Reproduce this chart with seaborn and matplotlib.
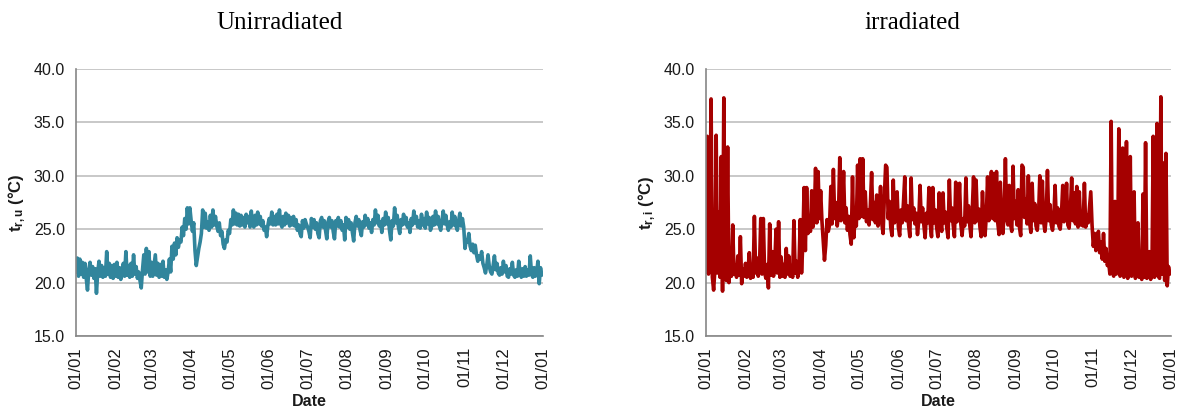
import numpy as np
import pandas as pd
import matplotlib
matplotlib.use("Agg")
import matplotlib.pyplot as plt
import matplotlib.dates as mdates
import seaborn as sns

# Daily room temperatures (°C), one value per day, month by month
unirr_jan = [21.0, 22.3, 20.6, 22.2, 20.8, 21.9, 20.5, 21.8, 20.4, 19.3, 21.2, 21.9, 20.7, 21.5, 20.4, 21.3,
             19.0, 21.0, 22.0, 20.6, 21.6, 20.5, 21.4, 20.6, 22.9, 20.8, 21.8, 20.5, 21.6, 20.4, 21.7]
unirr_feb = [20.6, 21.9, 20.5, 21.4, 20.3, 20.8, 21.8, 20.6, 22.9, 20.7, 21.6, 20.5, 21.8, 20.6, 22.6, 20.8,
             21.5, 20.4, 21.0, 20.2, 19.5, 21.2, 22.6, 20.8, 23.2, 21.0, 22.9, 20.6]
unirr_mar = [21.9, 20.6, 21.6, 22.6, 20.7, 21.8, 20.5, 21.7, 20.6, 22.0, 20.5, 21.2, 20.3, 21.0, 22.2, 21.0,
             23.4, 22.2, 23.7, 22.6, 24.2, 23.3, 24.0, 23.8, 25.2, 24.4, 26.0, 25.0, 27.0, 25.5, 27.0]
unirr_apr = [25.8, 24.8, 25.6, 23.0, 21.6, 22.4, 23.2, 23.8, 24.6, 26.8, 25.2, 26.5, 25.1, 25.7, 24.9, 26.3,
             25.2, 26.8, 25.4, 26.2, 25.3, 24.8, 25.6, 24.4, 24.8, 23.6, 23.2, 24.0, 23.8, 24.9]
unirr_may = [24.6, 25.9, 25.4, 26.8, 25.5, 26.5, 25.4, 26.4, 25.3, 26.3, 25.4, 26.1, 25.2, 26.4, 25.6, 26.2,
             25.2, 26.7, 25.5, 25.2, 26.3, 25.4, 26.6, 25.5, 26.2, 25.3, 25.8, 24.9, 25.2, 24.3, 25.4]
unirr_jun = [26.0, 25.5, 26.6, 25.4, 26.2, 25.4, 26.4, 25.5, 26.8, 25.5, 25.2, 26.2, 25.4, 26.5, 25.6, 26.3,
             25.3, 26.1, 25.4, 26.2, 25.3, 25.9, 24.9, 25.4, 24.6, 24.3, 25.8, 25.1, 25.9, 25.5]
unirr_jul = [25.2, 24.8, 24.2, 26.0, 25.2, 25.9, 25.0, 25.6, 24.6, 24.2, 25.8, 26.1, 25.2, 25.8, 24.9, 24.1,
             25.7, 26.1, 25.2, 25.8, 24.8, 24.1, 25.8, 25.3, 26.1, 25.2, 25.8, 24.9, 25.4, 24.0, 26.1]
unirr_aug = [25.2, 25.9, 25.0, 25.6, 24.7, 23.9, 25.6, 26.2, 25.3, 25.9, 24.9, 24.4, 25.7, 25.2, 26.3, 25.4,
             26.0, 25.1, 25.6, 24.7, 25.9, 25.4, 26.8, 25.6, 26.3, 25.3, 25.7, 24.7, 26.0, 25.4, 26.6]
unirr_sep = [25.5, 26.1, 24.9, 24.0, 25.8, 25.3, 27.0, 25.6, 26.3, 25.2, 24.6, 25.9, 25.4, 26.4, 25.5, 26.1,
             25.2, 25.6, 24.7, 26.0, 25.4, 26.7, 25.6, 26.2, 25.2, 25.8, 25.1, 26.4, 25.4, 26.0]
unirr_oct = [25.1, 26.6, 25.5, 26.1, 24.9, 25.3, 26.2, 25.4, 26.7, 25.5, 26.2, 25.3, 24.9, 25.8, 26.7, 25.5,
             26.3, 25.4, 24.9, 25.7, 25.2, 26.6, 25.4, 26.2, 25.3, 24.9, 25.8, 26.5, 25.3, 26.0, 25.2]
unirr_nov = [23.2, 24.0, 23.8, 24.6, 23.4, 23.0, 23.6, 22.8, 23.5, 22.6, 22.0, 22.5, 22.2, 22.9, 21.8, 21.4,
             20.9, 21.6, 22.6, 21.5, 21.0, 20.8, 21.6, 22.5, 21.2, 21.8, 20.9, 20.7, 21.4, 20.8]
unirr_dec = [22.0, 21.0, 21.6, 20.6, 20.5, 21.3, 20.8, 21.9, 20.7, 20.5, 21.2, 20.6, 22.0, 21.0, 20.5, 21.3,
             20.6, 21.5, 20.6, 21.2, 20.7, 22.5, 20.8, 20.5, 21.4, 20.6, 21.0, 22.0, 19.9, 21.4, 20.7]

irr_jan = [21.0, 33.7, 20.8, 25.2, 37.2, 20.5, 19.3, 21.2, 33.8, 20.9, 26.6, 20.5, 31.8, 19.2, 37.3, 21.0,
           20.2, 32.7, 20.0, 21.5, 20.6, 25.4, 20.8, 21.6, 20.5, 22.5, 20.7, 24.3, 19.9, 21.3, 20.6]
irr_feb = [21.8, 20.5, 21.2, 22.8, 20.4, 21.6, 20.5, 26.2, 20.9, 22.3, 20.6, 21.5, 26.0, 20.8, 26.0, 21.0,
           20.4, 21.7, 19.5, 25.5, 20.7, 22.9, 20.6, 21.8, 25.0, 20.9, 25.7, 20.5]
irr_mar = [22.4, 20.6, 21.7, 20.5, 23.2, 20.8, 22.5, 20.6, 21.4, 20.5, 25.8, 20.9, 22.0, 20.5, 21.6, 25.9,
           20.9, 23.6, 28.9, 23.0, 28.9, 24.6, 25.5, 24.8, 28.6, 25.2, 26.1, 30.7, 25.6, 30.4, 26.0]
irr_apr = [28.6, 25.8, 24.0, 22.1, 23.5, 25.9, 24.8, 25.4, 29.0, 25.5, 30.6, 26.0, 27.5, 25.3, 26.4, 31.7,
           25.8, 27.0, 30.4, 25.6, 27.0, 24.9, 26.2, 24.5, 23.6, 29.9, 24.2, 26.0, 25.3, 31.0]
irr_may = [26.0, 31.6, 26.2, 31.6, 26.1, 28.5, 25.7, 26.8, 25.4, 27.2, 30.3, 25.9, 27.5, 25.6, 28.2, 25.3,
           26.6, 29.0, 25.5, 24.6, 28.0, 31.0, 30.8, 26.0, 27.6, 25.2, 24.4, 29.6, 25.6, 26.9, 28.5]
irr_jun = [25.2, 24.4, 26.8, 25.6, 27.5, 29.9, 25.8, 27.2, 25.4, 24.3, 29.8, 25.9, 27.0, 25.5, 26.5, 24.5,
           25.8, 29.1, 25.7, 27.0, 25.4, 24.2, 26.5, 25.6, 28.9, 25.5, 24.3, 28.9, 25.6, 26.8]
irr_jul = [25.2, 24.3, 28.4, 25.8, 24.8, 28.4, 25.6, 26.6, 25.1, 24.2, 29.6, 25.8, 27.0, 25.4, 24.3, 29.4,
           25.7, 26.4, 29.3, 25.5, 24.4, 26.0, 25.3, 29.8, 25.7, 27.2, 25.4, 24.3, 26.8, 29.9, 25.6]
irr_aug = [29.6, 25.8, 26.9, 25.2, 24.3, 28.5, 25.6, 24.4, 26.2, 29.9, 25.8, 27.5, 30.4, 26.0, 30.2, 25.8,
           30.4, 25.6, 24.5, 29.4, 25.8, 24.6, 26.5, 31.6, 26.0, 25.4, 29.1, 25.5, 24.8, 30.9, 26.0]
irr_sep = [27.6, 25.4, 28.7, 25.2, 24.4, 31.0, 30.8, 26.1, 27.8, 25.5, 30.0, 25.6, 24.7, 29.3, 25.8, 27.4,
           25.3, 24.9, 26.3, 30.0, 25.6, 29.5, 25.7, 24.8, 26.0, 30.5, 25.8, 27.3, 25.4, 24.9]
irr_oct = [26.2, 29.1, 25.6, 27.0, 25.3, 25.0, 26.4, 29.1, 25.7, 26.5, 29.3, 25.4, 25.1, 26.8, 29.8, 25.8,
           28.4, 25.5, 29.0, 25.2, 28.5, 25.4, 26.6, 25.3, 29.3, 25.2, 26.3, 25.6, 27.0, 28.5, 25.4]
irr_nov = [23.4, 24.6, 23.0, 24.2, 24.8, 22.8, 23.8, 22.2, 24.6, 22.0, 23.2, 21.6, 22.0, 20.8, 35.1, 21.0,
           20.6, 27.6, 20.8, 21.5, 34.4, 20.6, 21.2, 32.6, 20.5, 21.0, 33.2, 20.4, 20.9, 31.8]
irr_dec = [20.6, 21.2, 28.5, 20.4, 21.0, 25.6, 20.5, 21.4, 20.3, 28.3, 20.5, 33.1, 20.4, 21.0, 22.9, 20.3,
           20.8, 33.7, 20.5, 21.3, 34.9, 20.6, 20.4, 37.4, 20.8, 31.2, 20.2, 32.1, 19.7, 21.5, 20.8]

unirradiated = (unirr_jan + unirr_feb + unirr_mar + unirr_apr + unirr_may + unirr_jun +
                unirr_jul + unirr_aug + unirr_sep + unirr_oct + unirr_nov + unirr_dec)
irradiated = (irr_jan + irr_feb + irr_mar + irr_apr + irr_may + irr_jun +
              irr_jul + irr_aug + irr_sep + irr_oct + irr_nov + irr_dec)

titles = ["Unirradiated", "irradiated"]
ylabels = [r"$\mathbf{t_{r,u}}$ (°C)", r"$\mathbf{t_{r,i}}$ (°C)"]
colors = ["#31859C", "#A50000"]

df_u = pd.DataFrame({"date": pd.date_range("2015-01-01", periods=len(unirradiated), freq="D"),
                     "temp": unirradiated})
df_i = pd.DataFrame({"date": pd.date_range("2015-01-01", periods=len(irradiated), freq="D"),
                     "temp": irradiated})

sns.set_theme(style="white")
plt.rcParams["font.family"] = ["Liberation Sans", "DejaVu Sans"]
plt.rcParams["mathtext.fontset"] = "custom"
plt.rcParams["mathtext.rm"] = "Liberation Sans"
plt.rcParams["mathtext.bf"] = "Liberation Sans:bold"
plt.rcParams["mathtext.it"] = "Liberation Sans:italic"

fig = plt.figure(figsize=(11.78, 4.11), dpi=100)
ax_pos = [[0.0645, 0.1825, 0.3965, 0.6495], [0.5993, 0.1825, 0.3948, 0.6495]]
title_x = [0.2377, 0.7742]

text_color = "#1a1a1a"
for k, df in enumerate([df_u, df_i]):
    ax = fig.add_axes(ax_pos[k])
    sns.lineplot(data=df, x="date", y="temp", ax=ax, color=colors[k], linewidth=2.6,
                 estimator=None, solid_joinstyle="round")
    ax.set_xlim(pd.Timestamp("2015-01-01"), pd.Timestamp("2016-01-01"))
    ax.set_ylim(15, 40)
    ax.set_yticks(np.arange(15, 40.1, 5))
    ax.yaxis.set_major_formatter(matplotlib.ticker.FormatStrFormatter("%.1f"))
    ax.xaxis.set_major_locator(mdates.MonthLocator())
    ax.xaxis.set_major_formatter(mdates.DateFormatter("%d/%m"))
    for lbl in ax.get_xticklabels():
        lbl.set_rotation(90)
    ax.tick_params(axis="y", labelsize=11.5)
    ax.tick_params(axis="x", labelsize=12)
    ax.tick_params(axis="both", which="major", labelcolor=text_color, color="#868686",
                   direction="out", length=5, width=1, pad=3)
    ax.grid(axis="y", color="#BFBFBF", linewidth=1.2)
    ax.set_axisbelow(True)
    for side in ["top", "right"]:
        ax.spines[side].set_visible(False)
    for side in ["left", "bottom"]:
        ax.spines[side].set_color("#868686")
        ax.spines[side].set_linewidth(1.2)
    ax.set_xlabel("Date", fontsize=11.5, fontweight="bold", color=text_color, labelpad=4)
    ax.set_ylabel(ylabels[k], fontsize=12, fontweight="bold", color=text_color, labelpad=4)
    fig.text(title_x[k], 0.945, titles[k], ha="center", va="center",
             fontsize=18, family=["Liberation Serif", "DejaVu Serif"], color="black")

fig.savefig("out.png", dpi=100, facecolor="white")
